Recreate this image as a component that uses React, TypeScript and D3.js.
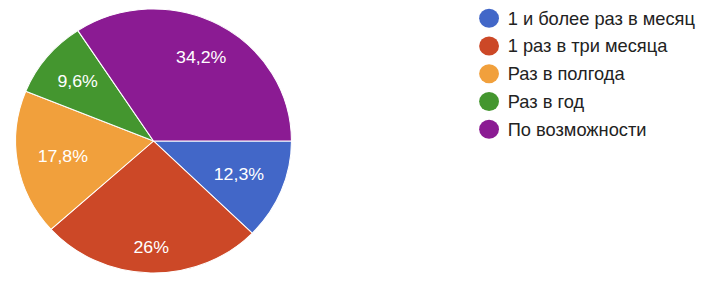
import React from "react";
import * as d3 from "d3";

const categories = [
  "1 и более раз в месяц",
  "1 раз в три месяца",
  "Раз в полгода",
  "Раз в год",
  "По возможности",
];
const values = [12.3, 26, 17.8, 9.6, 34.2];
const colors = ["#4267c8", "#cc4827", "#f1a03c", "#44962f", "#8b1b93"];

const W = 722;
const H = 288;
const SX = 1.045;
const CX = 146.9;
const CY = 141;
const R = 132;
const LABEL_FS = 17;
const LEGEND_FS = 17.5;

const charW: Record<string, number> = {
  "0": 0.556, "1": 0.556, "2": 0.556, "3": 0.556, "4": 0.556, "5": 0.556,
  "6": 0.556, "7": 0.556, "8": 0.556, "9": 0.556, ",": 0.278, "%": 0.889,
};
const textWidth = (s: string, fs: number) =>
  s.split("").reduce((a, c) => a + (charW[c] ?? 0.556), 0) * fs;

const fmt = (v: number) => String(v).replace(".", ",") + "%";

export default function App() {
  const pie = d3
    .pie<number>()
    .sort(null)
    .startAngle(Math.PI / 2)
    .endAngle(Math.PI / 2 + 2 * Math.PI)
    .value((d) => d);
  const arcs = pie(values);
  const arc = d3.arc<d3.PieArcDatum<number>>().innerRadius(0).outerRadius(R);
  const legendY = d3.scaleLinear().domain([0, 1]).range([18.3, 46.05]);

  return (
    <svg
      width={W}
      height={H}
      style={{ position: "absolute", left: 0, top: 0, background: "#fff" }}
      fontFamily="'Liberation Sans', Arial, sans-serif"
    >
      <g transform={`scale(${SX},1)`}>
        <g transform={`translate(${CX},${CY})`}>
          {arcs.map((a, i) => (
            <path key={i} d={arc(a) || ""} fill={colors[i]} stroke="#fff" strokeWidth={1} />
          ))}
          {arcs.map((a, i) => {
            const mid = (a.startAngle + a.endAngle) / 2;
            const ux = Math.sin(mid);
            const uy = -Math.cos(mid);
            const label = fmt(values[i]);
            const hw = textWidth(label, LABEL_FS) / 2;
            const hh = (LABEL_FS * 0.72) / 2;
            const ext = Math.abs(ux) * hw + Math.abs(uy) * hh;
            const d = R * 0.855 - ext;
            return (
              <text
                key={i}
                x={ux * d}
                y={uy * d}
                dy="0.36em"
                textAnchor="middle"
                fill="#fff"
                fontSize={LABEL_FS}
              >
                {label}
              </text>
            );
          })}
        </g>
        <g>
          {categories.map((c, i) => (
            <g key={i} transform={`translate(0,${legendY(i)})`}>
              <circle cx={468} cy={0} r={9.5} fill={colors[i]} />
              <text x={485.8} y={0} dy="0.36em" fontSize={LEGEND_FS} fill="#222">
                {c}
              </text>
            </g>
          ))}
        </g>
      </g>
    </svg>
  );
}
